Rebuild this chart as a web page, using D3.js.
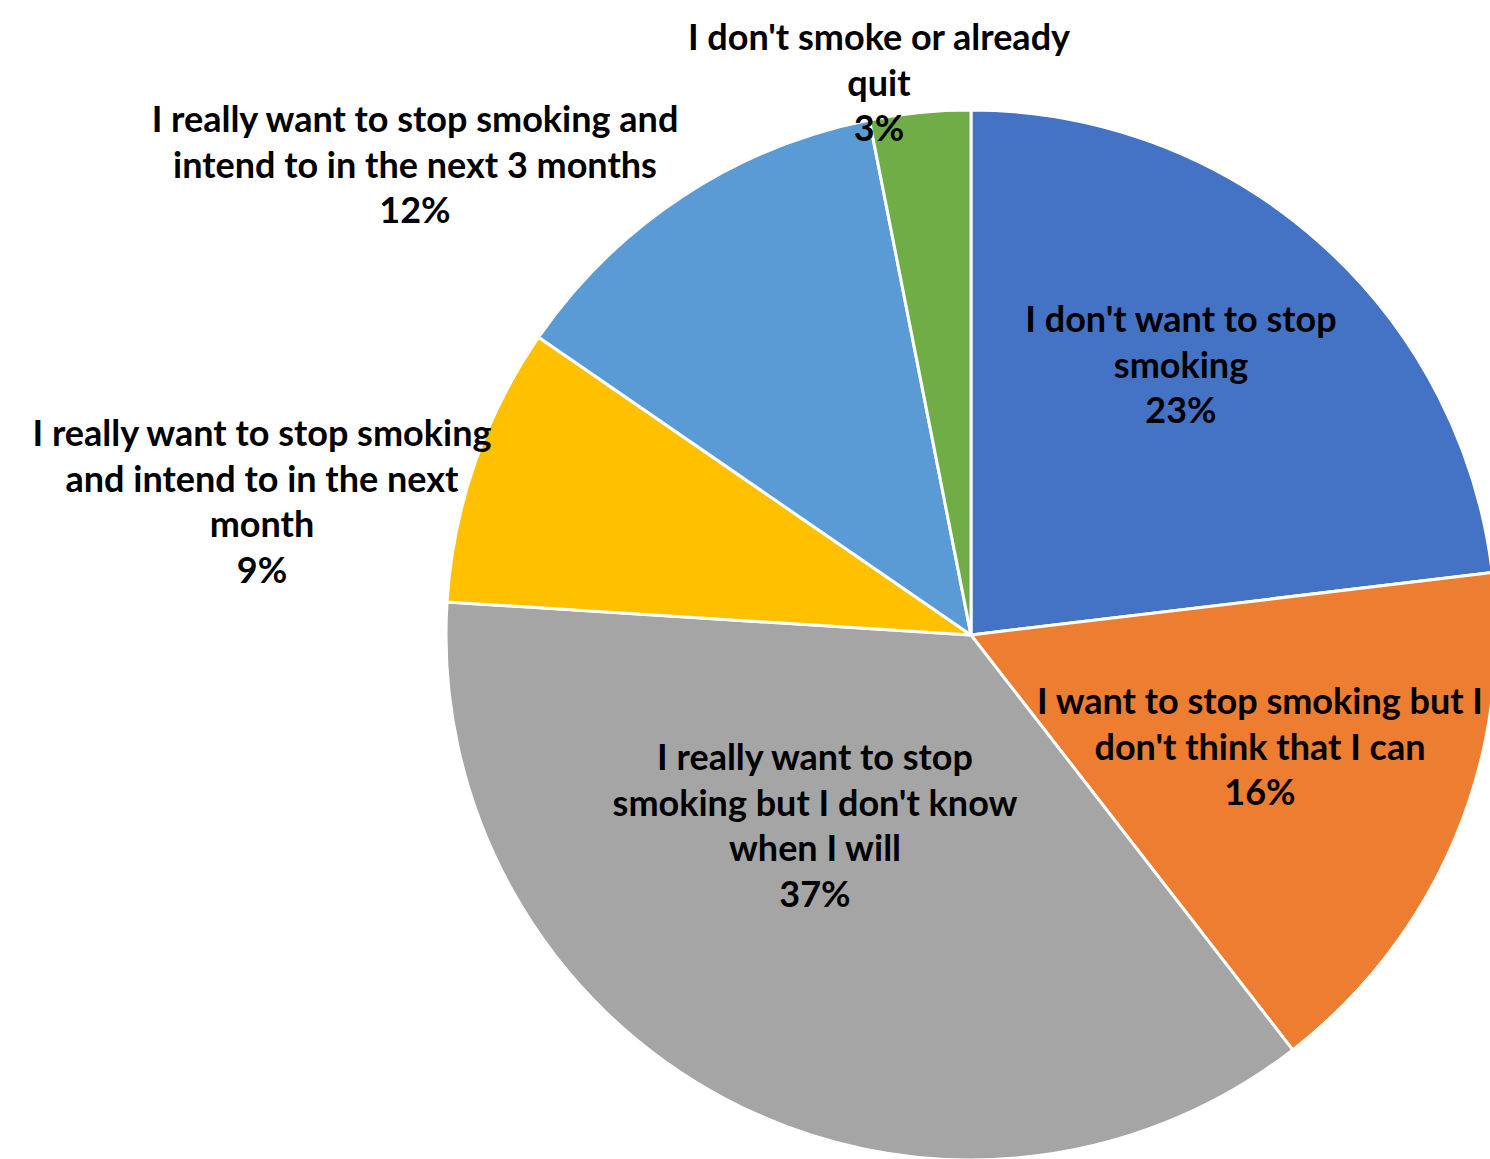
<!DOCTYPE html>
<html>
<head>
<meta charset="utf-8">
<script src="https://cdn.jsdelivr.net/npm/d3@7"></script>
<style>
  body { margin: 0; background: #fff; }
  .slice-label { font-family: Lato, "Open Sans", sans-serif; font-weight: bold; fill: #000; }
</style>
</head>
<body>
<div id="chart"></div>
<script>
// categories (lines already split as in the chart)
const categories = [
  ["I don't want to stop", "smoking"],
  ["I want to stop smoking but I", "don't think that I can"],
  ["I really want to stop", "smoking but I don't know", "when I will"],
  ["I really want to stop smoking", "and intend to in the next", "month"],
  ["I really want to stop smoking and", "intend to in the next 3 months"],
  ["I don't smoke or already", "quit"]
];
// share of respondents, in percent
const shares = [23.1, 16.4, 36.5, 8.6, 12.3, 3.1];
const colors = ['#4472C4', '#ED7D31', '#A5A5A5', '#FFC000', '#5B9BD5', '#70AD47'];

// label placement (centre x, first baseline) as Excel laid them out
const labelLayout = [
  {x: 1181, y: 332},
  {x: 1260, y: 714},
  {x: 815, y: 770},
  {x: 262, y: 446},
  {x: 415, y: 132},
  {x: 879, y: 50}
];

const width = 1490, height = 1159;
const cx = 971, cy = 635, radius = 525;
const lineHeight = 45.5;

const svg = d3.select('#chart').append('svg')
  .attr('width', width)
  .attr('height', height);

const pie = d3.pie().sort(null).value(d => d);
const arc = d3.arc().innerRadius(0).outerRadius(radius);

const total = d3.sum(shares);
const arcs = pie(shares);

const g = svg.append('g')
  .attr('transform', `translate(${cx},${cy})`);

g.selectAll('path')
  .data(arcs)
  .join('path')
  .attr('d', arc)
  .attr('fill', (d, i) => colors[i])
  .attr('stroke', '#fff')
  .attr('stroke-width', 3)
  .attr('stroke-linejoin', 'round');

// labels: category lines + rounded percentage
const labels = svg.selectAll('.slice-label')
  .data(arcs)
  .join('text')
  .attr('class', 'slice-label')
  .attr('text-anchor', 'middle')
  .style('font-size', '36px');

labels.each(function(d, i) {
  const t = d3.select(this);
  const lines = categories[i].concat([Math.round(d.value / total * 100) + '%']);
  t.selectAll('tspan')
    .data(lines)
    .join('tspan')
    .attr('x', labelLayout[i].x)
    .attr('y', (l, j) => labelLayout[i].y + j * lineHeight)
    .text(l => l);
});
</script>
</body>
</html>
